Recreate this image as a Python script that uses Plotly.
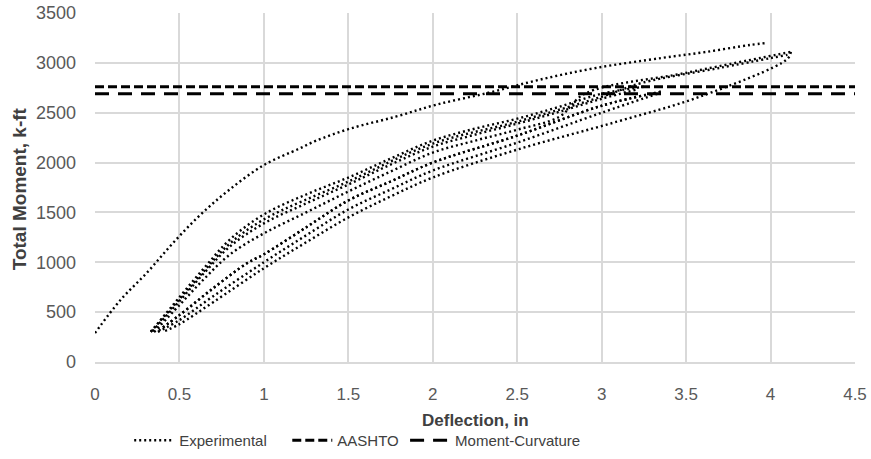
import plotly.graph_objects as go

# ---- Data ----
# Initial loading curve
init_x = [0.00, 0.15, 0.31, 0.46, 0.62, 0.79, 1.00, 1.21, 1.31, 1.51, 1.78, 2.02, 2.33, 2.63, 2.97, 3.36, 3.62, 3.88, 3.98]
init_y = [290, 620, 900, 1190, 1470, 1720, 1975, 2140, 2220, 2340, 2460, 2580, 2700, 2830, 2950, 3050, 3110, 3180, 3200]

# Cyclic loading branches (upper band)
up1_x = [0.33, 0.50, 0.65, 0.80, 1.00, 1.25, 1.50, 1.75, 2.00, 2.25, 2.50, 2.75, 3.00, 3.25]
up1_y = [300, 650, 950, 1230, 1480, 1680, 1850, 2040, 2220, 2340, 2440, 2560, 2690, 2760]
up2_x = [0.34, 0.50, 0.65, 0.80, 1.00, 1.25, 1.50, 1.75, 2.00, 2.25, 2.50, 2.75, 3.00, 3.20]
up2_y = [310, 610, 900, 1160, 1390, 1590, 1780, 1980, 2160, 2280, 2390, 2510, 2640, 2730]
up3_x = [0.35, 0.50, 0.65, 0.80, 1.00, 1.25, 1.50, 1.75, 2.00, 2.25, 2.50, 2.75, 2.90, 3.50, 4.12]
up3_y = [300, 570, 840, 1080, 1290, 1500, 1710, 1910, 2100, 2220, 2330, 2460, 2690, 2900, 3110]
up4_x = [0.33, 0.50, 0.65, 0.80, 1.00, 1.50, 2.00, 2.50, 3.00, 3.24, 3.70, 4.10]
up4_y = [305, 630, 920, 1190, 1430, 1810, 2190, 2410, 2660, 2800, 2950, 3080]

# Unloading branches (lower band)
lo1_x = [3.35, 3.00, 2.50, 2.00, 1.75, 1.50, 1.25, 1.00, 0.90, 0.70, 0.50, 0.38]
lo1_y = [2710, 2570, 2270, 2000, 1810, 1620, 1350, 1080, 990, 740, 470, 320]
lo2_x = [3.33, 3.00, 2.50, 2.00, 1.75, 1.50, 1.25, 1.00, 0.70, 0.50, 0.37]
lo2_y = [2690, 2500, 2200, 1920, 1730, 1530, 1270, 1000, 660, 420, 300]
lo3_x = [4.12, 4.10, 3.58, 3.09, 2.50, 2.00, 1.75, 1.50, 1.25, 1.00, 0.70, 0.50, 0.40]
lo3_y = [3110, 3040, 2660, 2410, 2130, 1850, 1660, 1450, 1200, 940, 600, 380, 300]

# Design capacities (horizontal lines)
x_span = [0, 4.5]
aashto_moment = 2760
mc_moment = 2690

branches = [
    (init_x, init_y),
    (up1_x, up1_y), (lo1_x, lo1_y),
    (up2_x, up2_y), (lo2_x, lo2_y),
    (up4_x, up4_y), (lo1_x, lo1_y),
    (up3_x, up3_y), (lo3_x, lo3_y),
]

fig = go.Figure()
exp_line = dict(color="black", width=2.4, dash="2px,3px")
for i, (bx, by) in enumerate(branches):
    fig.add_trace(go.Scatter(
        x=bx, y=by, mode="lines", line=exp_line,
        name="Experimental", legendgroup="exp", showlegend=(i == 0),
        line_shape="spline", legend="legend",
    ))

fig.add_trace(go.Scatter(
    x=x_span, y=[aashto_moment] * 2, mode="lines", name="AASHTO",
    line=dict(color="black", width=3, dash="9px,4px"), legend="legend2",
))
fig.add_trace(go.Scatter(
    x=x_span, y=[mc_moment] * 2, mode="lines", name="Moment-Curvature",
    line=dict(color="black", width=3, dash="14px,9px"), legend="legend3",
))

grid = "#d9d9d9"
font_main = "Liberation Sans, Arial, sans-serif"
legend_common = dict(
    orientation="h", xanchor="left", y=-0.225, yanchor="middle",
    font=dict(family=font_main, size=15, color="#404040"),
    bgcolor="rgba(0,0,0,0)", itemwidth=40,
)
fig.update_layout(
    width=871, height=459,
    margin=dict(l=95, r=16, t=13, b=97, autoexpand=False),
    plot_bgcolor="white", paper_bgcolor="white",
    showlegend=True,
    legend=dict(x=0.045, **legend_common),
    legend2=dict(x=0.253, **legend_common),
    legend3=dict(x=0.408, **legend_common),
    xaxis=dict(
        range=[0, 4.5], dtick=0.5, tick0=0, automargin=False,
        showgrid=True, gridcolor=grid, gridwidth=1.5,
        zeroline=False, showline=True, linecolor=grid, linewidth=1.5,
        ticks="", ticklabelstandoff=16,
        tickfont=dict(family=font_main, size=17, color="#595959"),
    ),
    yaxis=dict(
        range=[0, 3500], dtick=500, tick0=0, automargin=False,
        showgrid=True, gridcolor=grid, gridwidth=1.5,
        zeroline=False, showline=False,
        ticks="", ticklabelstandoff=18,
        tickfont=dict(family=font_main, size=18, color="#595959"),
    ),
    annotations=[
        dict(text="<b>Deflection, in</b>", xref="paper", yref="paper", x=0.5, y=-0.169,
             showarrow=False, xanchor="center", yanchor="middle",
             font=dict(family=font_main, size=17, color="#404040")),
        dict(text="<b>Total Moment, k-ft</b>", xref="paper", yref="paper", x=-0.099, y=0.497,
             showarrow=False, xanchor="center", yanchor="middle", textangle=-90,
             font=dict(family=font_main, size=19, color="#404040")),
    ],
)

fig.write_html("out.html", config={"displayModeBar": False},
               post_script="document.body.style.margin='0px';")
